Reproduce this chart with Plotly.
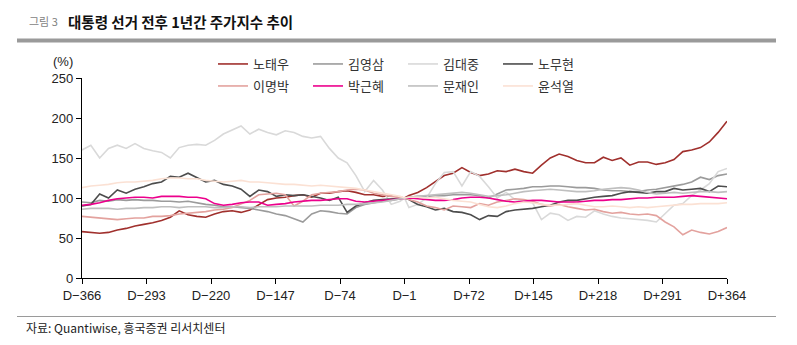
import plotly.graph_objects as go

# ---------------- data ----------------
days = sorted(list(range(-366, 365, 10)) + [-1])

tick_vals = [-366, -293, -220, -147, -74, -1, 72, 145, 218, 291, 364]
tick_text = ["D\u2212366", "D\u2212293", "D\u2212220", "D\u2212147", "D\u221274", "D\u22121",
             "D+72", "D+145", "D+218", "D+291", "D+364"]

roh_tw = [58, 57, 56, 57, 60, 62, 65, 67, 69, 72, 76, 84, 79, 77, 76, 80, 83, 84, 82, 85,
          92, 98, 100, 101, 103, 104, 101, 106, 106, 108, 109, 107, 104, 104, 102, 103, 101,
          100,
          103, 107, 113, 120, 128, 131, 138, 132, 128, 130, 134, 133, 136, 133, 131, 141, 150,
          155, 152, 147, 144, 144, 151, 147, 150, 141, 145, 145, 142, 144, 148, 158, 160, 163,
          170, 182, 196]
kim_ys = [95, 94, 97, 96, 98, 97, 98, 97, 97, 96, 96, 95, 96, 94, 92, 91, 89, 89, 88, 87,
          85, 83, 80, 78, 74, 70, 80, 84, 83, 81, 80, 88, 92, 94, 96, 97, 99,
          100,
          101, 102, 102, 103, 103, 104, 104, 104, 103, 100, 105, 110, 111, 112, 114, 114, 115,
          115, 114, 113, 113, 112, 110, 109, 109, 108, 108, 110, 111, 113, 115, 117, 120, 126,
          123, 128, 130]
kim_dj = [160, 166, 150, 162, 166, 162, 168, 162, 159, 157, 150, 163, 166, 167, 166, 172,
          180, 185, 190, 180, 186, 182, 179, 184, 182, 177, 175, 177, 162, 150, 144, 128, 108,
          122, 110, 92, 96,
          100,
          88, 92, 100, 118, 132, 133, 115, 133, 127, 114, 100, 107, 98, 96, 94, 73, 81, 79, 72,
          77, 76, 84, 80, 77, 75, 74, 73, 72, 70, 80, 91, 93, 103, 110, 118, 133, 137]
roh_mh = [90, 92, 105, 100, 110, 106, 111, 114, 118, 120, 127, 126, 131, 125, 120, 122, 117,
          115, 111, 102, 110, 108, 102, 104, 103, 104, 102, 100, 97, 101, 82, 90, 94, 97, 98,
          99, 100,
          100,
          98, 92, 89, 85, 87, 83, 82, 79, 73, 78, 77, 83, 85, 86, 87, 89, 91, 95, 97, 97, 99,
          101, 102, 103, 106, 108, 107, 106, 108, 108, 112, 110, 111, 112, 108, 115, 114]
lee_mb = [77, 76, 75, 74, 73, 74, 75, 75, 77, 77, 78, 80, 81, 82, 83, 85, 86, 88, 92, 97,
          104, 105, 106, 104, 90, 96, 104, 106, 107, 108, 110, 111, 110, 106, 104, 102, 101,
          100,
          98, 95, 90, 88, 85, 90, 89, 88, 93, 91, 95, 97, 99, 98, 96, 92, 90, 92, 89, 87, 85,
          86, 83, 81, 82, 80, 79, 80, 78, 70, 64, 54, 60, 57, 55, 58, 63]
park_gh = [91, 92, 94, 97, 99, 100, 101, 101, 100, 102, 102, 102, 101, 101, 99, 93, 91, 92,
           94, 95, 95, 91, 92, 93, 95, 96, 97, 97, 98, 99, 99, 96, 95, 96, 97, 98, 99,
           100,
           100, 99, 98, 97, 97, 98, 100, 101, 101, 100, 98, 96, 95, 96, 97, 97, 96, 95, 95, 95,
           96, 97, 97, 98, 98, 99, 100, 100, 101, 101, 101, 102, 103, 102, 101, 100, 99]
moon_ji = [86, 87, 87, 87, 86, 87, 87, 88, 88, 89, 89, 88, 89, 89, 89, 88, 88, 89, 89, 88,
           89, 89, 89, 90, 90, 90, 90, 91, 91, 91, 92, 92, 93, 94, 95, 97, 99,
           100,
           101, 102, 103, 104, 105, 106, 107, 106, 104, 102, 103, 104, 106, 108, 109, 110, 111,
           110, 109, 108, 108, 109, 111, 112, 113, 112, 110, 107, 105, 106, 107, 106, 107, 108,
           108, 107, 108]
yoon_sy = [113, 115, 116, 117, 119, 120, 120, 121, 122, 124, 125, 125, 124, 124, 122, 121,
           120, 121, 122, 120, 120, 119, 118, 117, 117, 116, 115, 116, 115, 114, 113, 112, 110,
           108, 106, 104, 102,
           100,
           101, 101, 100, 101, 99, 97, 96, 95, 92, 89, 88, 90, 93, 95, 94, 92, 91, 91, 92, 93,
           91, 89, 89, 90, 89, 88, 89, 88, 89, 90, 91, 92, 92, 93, 93, 93, 94]

names = ["노태우", "김영삼", "김대중", "노무현", "이명박", "박근혜", "문재인", "윤석열"]
series = [roh_tw, kim_ys, kim_dj, roh_mh, lee_mb, park_gh, moon_ji, yoon_sy]
colors = ["#A0302D", "#9B9B9B", "#D9D9D9", "#4D4D4D", "#E3A29E", "#EC008C", "#BFBFBF", "#FBE1D4"]

# ---------------- figure ----------------
KR = "Noto Sans CJK KR"
NUM = "Liberation Sans, Arial, sans-serif"

fig = go.Figure()
for k in range(8):
    fig.add_trace(go.Scatter(
        x=days, y=series[k], mode="lines", name=names[k],
        line=dict(color=colors[k], width=1.6),
        legend="legend" if k < 4 else "legend2",
        legendrank=k + 1,
    ))

W, H = 797, 345
L, R, T, B = 82, 70, 78, 67
PW = W - L - R
fig.update_layout(
    width=W, height=H,
    margin=dict(l=L, r=R, t=T, b=B),
    paper_bgcolor="white", plot_bgcolor="white",
    showlegend=True,
    legend=dict(orientation="h", x=(213 - L) / PW, y=(278 - 64) / 200,
                xanchor="left", yanchor="middle", entrywidth=50,
                font=dict(family=KR, size=13, color="#333333"),
                bgcolor="rgba(0,0,0,0)", tracegroupgap=0),
    legend2=dict(orientation="h", x=(213 - L) / PW, y=(278 - 86) / 200,
                 xanchor="left", yanchor="middle", entrywidth=50,
                 font=dict(family=KR, size=13, color="#333333"),
                 bgcolor="rgba(0,0,0,0)", tracegroupgap=0),
    xaxis=dict(range=[-366, 364], tickmode="array", tickvals=tick_vals, ticktext=tick_text,
               showline=True, linecolor="#000000", linewidth=1.3,
               ticks="outside", ticklen=5, tickcolor="#000000", tickwidth=1,
               showgrid=False, zeroline=False,
               tickfont=dict(family=NUM, size=13, color="#222222")),
    yaxis=dict(range=[0, 250], tickmode="array", tickvals=[0, 50, 100, 150, 200, 250],
               showline=True, linecolor="#000000", linewidth=1.3,
               ticks="outside", ticklen=5, tickcolor="#000000", tickwidth=1,
               showgrid=False, zeroline=False,
               tickfont=dict(family=NUM, size=13, color="#222222")),
    annotations=[
        dict(text="그림 3", xref="paper", yref="paper", x=(27 - L) / PW,
             y=(278 - 21) / 200, xanchor="left", yanchor="middle", showarrow=False,
             font=dict(family=KR, size=11, color="#7F7F7F")),
        dict(text="<b>대통령 선거 전후 1년간 주가지수 추이</b>", xref="paper", yref="paper",
             x=(66 - L) / PW, y=(278 - 21) / 200, xanchor="left", yanchor="middle",
             showarrow=False, font=dict(family=KR, size=14.5, color="#111111")),
        dict(text="(%)", xref="paper", yref="paper", x=(63 - L) / PW,
             y=(278 - 61) / 200, xanchor="center", yanchor="middle", showarrow=False,
             font=dict(family=NUM, size=13, color="#222222")),
        dict(text="자료: Quantiwise, 흥국증권 리서치센터", xref="paper", yref="paper",
             x=(24 - L) / PW, y=(278 - 327) / 200, xanchor="left", yanchor="middle",
             showarrow=False, font=dict(family=KR, size=12, color="#222222")),
    ],
    shapes=[
        dict(type="line", xref="paper", yref="paper",
             x0=(17 - L) / PW, x1=(776 - L) / PW,
             y0=(278 - 40.5) / 200, y1=(278 - 40.5) / 200,
             line=dict(color="#9A9A9A", width=4)),
        dict(type="line", xref="paper", yref="paper",
             x0=(17 - L) / PW, x1=(776 - L) / PW,
             y0=(278 - 316.5) / 200, y1=(278 - 316.5) / 200,
             line=dict(color="#9A9A9A", width=1)),
    ],
)

fig.write_html("out.html")
